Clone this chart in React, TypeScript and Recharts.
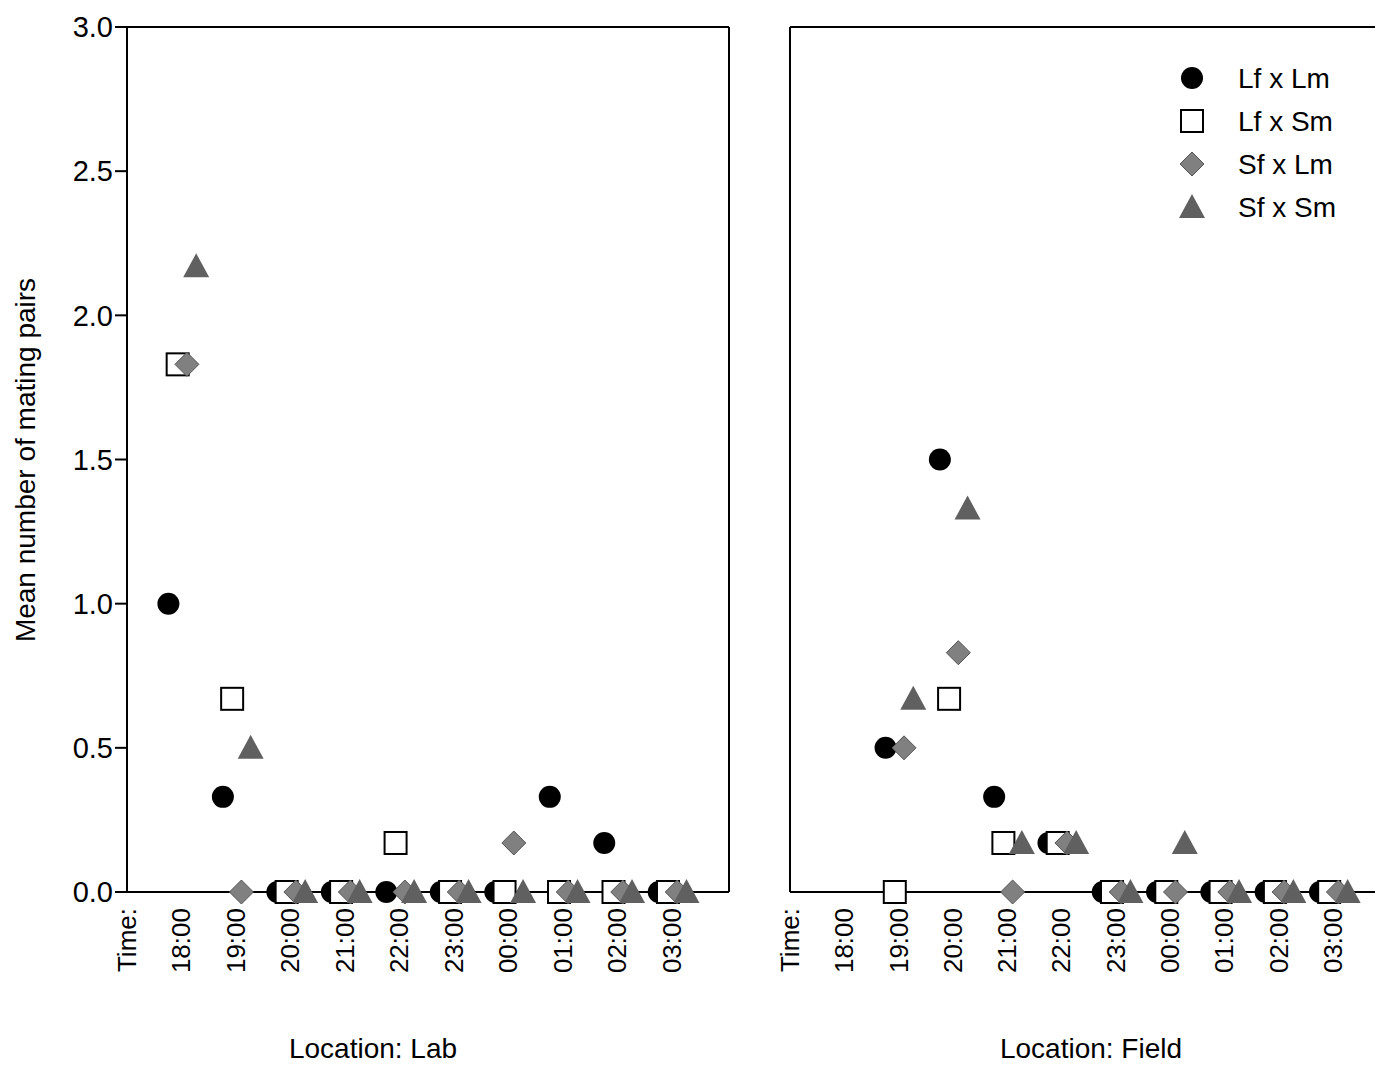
import React from "react";
import { ScatterChart, Scatter, XAxis, YAxis } from "recharts";

const timeLabels = ["Time:", "18:00", "19:00", "20:00", "21:00", "22:00", "23:00", "00:00", "01:00", "02:00", "03:00"];
const seriesNames = ["Lf x Lm", "Lf x Sm", "Sf x Lm", "Sf x Sm"];
const offsets = [-0.24, -0.07, 0.1, 0.27];

// values for 18:00..03:00 (null = not observed)
const labLfLm = [1.0, 0.33, 0, 0, 0, 0, 0, 0.33, 0.17, 0];
const labLfSm = [1.83, 0.67, 0, 0, 0.17, 0, 0, 0, 0, 0];
const labSfLm = [1.83, 0, 0, 0, 0, 0, 0.17, 0, 0, 0];
const labSfSm = [2.17, 0.5, 0, 0, 0, 0, 0, 0, 0, 0];
const fieldLfLm = [null, 0.5, 1.5, 0.33, 0.17, 0, 0, 0, 0, 0];
const fieldLfSm = [null, 0, 0.67, 0.17, 0.17, 0, 0, 0, 0, 0];
const fieldSfLm = [null, 0.5, 0.83, 0, 0.17, 0, 0, 0, 0, 0];
const fieldSfSm = [null, 0.67, 1.33, 0.17, 0.17, 0, 0.17, 0, 0, 0];

const FONT = "'Liberation Sans', Arial, sans-serif";
const toPts = (vals: (number | null)[], s: number) =>
  vals.map((v, i) => (v === null ? null : { x: i + 1 + offsets[s], y: v })).filter(Boolean) as { x: number; y: number }[];

const Circle = (p: any) => <circle cx={p.cx} cy={p.cy} r={11} fill="#000" />;
const Square = (p: any) => <rect x={p.cx - 11} y={p.cy - 11} width={22} height={22} fill="#fff" stroke="#000" strokeWidth={2} />;
const Diamond = (p: any) => (
  <polygon points={`${p.cx},${p.cy - 12} ${p.cx + 12},${p.cy} ${p.cx},${p.cy + 12} ${p.cx - 12},${p.cy}`} fill="#808080" stroke="#555" strokeWidth={1} />
);
const Triangle = (p: any) => (
  <polygon points={`${p.cx},${p.cy - 13} ${p.cx + 13},${p.cy + 11} ${p.cx - 13},${p.cy + 11}`} fill="#606060" />
);
const shapes = [Circle, Square, Diamond, Triangle];

const XTick = (p: any) => (
  <text x={p.x + 9} y={p.y + 8} transform={`rotate(-90 ${p.x + 9} ${p.y + 8})`} textAnchor="end" fontSize={26} fontFamily={FONT} fill="#000">
    {timeLabels[p.payload.value]}
  </text>
);

const xTicks = [0, 1, 2, 3, 4, 5, 6, 7, 8, 9, 10];
const rightTicks = [0, 0.375, 0.75, 1.125, 1.5, 1.875, 2.25, 2.625, 3];
const AX = { stroke: "#000", strokeWidth: 2 };

function Panel({ data, left, width, yw, showY }: any) {
  return (
    <div style={{ position: "absolute", left, top: 0 }}>
      <ScatterChart width={width} height={1066} margin={{ top: 26, right: 0, bottom: 0, left: 0 }}>
        <XAxis type="number" dataKey="x" xAxisId="b" domain={[0, 11.05]} ticks={xTicks} interval={0} tick={<XTick />}
          tickLine={false} axisLine={AX} height={174} />
        <XAxis type="number" xAxisId="t" orientation="top" domain={[0, 11.05]} ticks={xTicks} tick={false}
          tickLine={AX} tickSize={-8} axisLine={AX} height={1} />
        <YAxis type="number" dataKey="y" yAxisId="l" domain={[0, 3]} ticks={[0, 0.5, 1, 1.5, 2, 2.5, 3]} width={yw}
          tick={showY ? { fontSize: 29, fontFamily: FONT, fill: "#000" } : false}
          tickFormatter={(v: number) => v.toFixed(1)} tickSize={12} tickLine={AX} axisLine={AX} />
        <YAxis type="number" yAxisId="r" orientation="right" domain={[0, 3]} ticks={rightTicks} tick={false} width={11}
          tickSize={-7} tickLine={AX} axisLine={AX} />
        {data.map((d: any, s: number) => (
          <Scatter key={s} name={seriesNames[s]} data={d} xAxisId="b" yAxisId="l" shape={shapes[s]} isAnimationActive={false} />
        ))}
      </ScatterChart>
    </div>
  );
}

export default function App() {
  const lab = [labLfLm, labLfSm, labSfLm, labSfSm].map((v, s) => toPts(v, s));
  const field = [fieldLfLm, fieldLfSm, fieldSfLm, fieldSfSm].map((v, s) => toPts(v, s));
  return (
    <div style={{ position: "relative", width: 1383, height: 1066, background: "#fff" }}>
      <div style={{ position: "absolute", left: -8, top: -8, width: 1383, height: 1066, overflow: "hidden" }}>
        <Panel data={lab} left={0} width={740} yw={127} showY />
        <Panel data={field} left={740} width={661} yw={50} showY={false} />
        <svg style={{ position: "absolute", left: 0, top: 0 }} width={1383} height={1066}>
          <text x={35} y={460} transform="rotate(-90 35 460)" textAnchor="middle" fontSize={28} fontFamily={FONT} fill="#000">
            Mean number of mating pairs
          </text>
          <text x={373} y={1058} textAnchor="middle" fontSize={28} fontFamily={FONT} fill="#000">Location: Lab</text>
          <text x={1091} y={1058} textAnchor="middle" fontSize={28} fontFamily={FONT} fill="#000">Location: Field</text>
        </svg>
        <svg style={{ position: "absolute", left: 1160, top: 55 }} width={220} height={180}>
          {seriesNames.map((n, i) => {
            const S = shapes[i];
            const cy = 23 + i * 43;
            return (
              <g key={n}>
                <S cx={32} cy={cy} />
                <text x={78} y={cy + 10} fontSize={28} fontFamily={FONT} fill="#000">{n}</text>
              </g>
            );
          })}
        </svg>
      </div>
    </div>
  );
}
